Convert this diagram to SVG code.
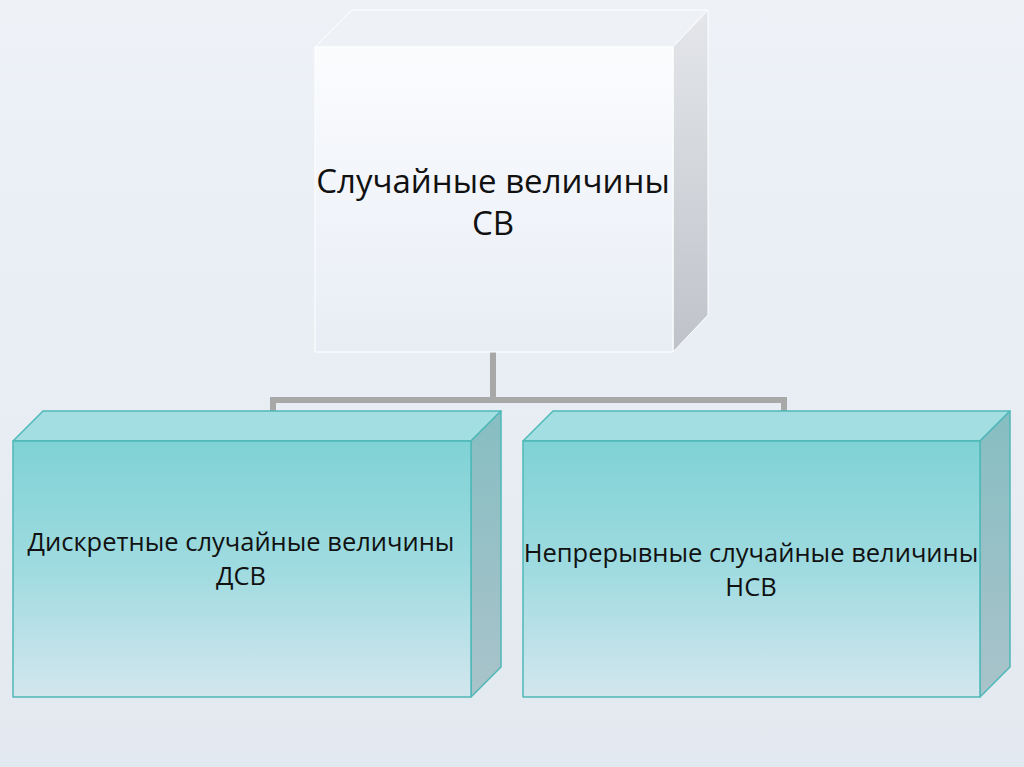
<svg xmlns="http://www.w3.org/2000/svg" width="1024" height="767" viewBox="0 0 1024 767">
<defs>
<linearGradient id="bg" x1="0" y1="0" x2="0" y2="1"><stop offset="0" stop-color="#eef2f7"/><stop offset="1" stop-color="#e3e9f0"/></linearGradient>
<linearGradient id="wf" x1="0" y1="0" x2="0" y2="1"><stop offset="0" stop-color="#fbfcfe"/><stop offset="1" stop-color="#e8edf5"/></linearGradient>
<linearGradient id="ws" x1="0" y1="0" x2="0" y2="1"><stop offset="0" stop-color="#e4e6ea"/><stop offset="1" stop-color="#bfc3c9"/></linearGradient>
<linearGradient id="tf" x1="0" y1="0" x2="0" y2="1"><stop offset="0" stop-color="#7fd2d5"/><stop offset="0.5" stop-color="#9fdbe0"/><stop offset="1" stop-color="#d3e6ee"/></linearGradient>
<linearGradient id="ts" x1="0" y1="0" x2="0" y2="1"><stop offset="0" stop-color="#86bec2"/><stop offset="1" stop-color="#a9c3ca"/></linearGradient>
<style>
.txt{font-family:"Open Sans","Noto Sans","Liberation Sans",sans-serif;fill:#111;text-anchor:middle}
.t1{font-size:33px}
.t2{font-size:25.5px}
.tedge{stroke:#4fb8b8;stroke-width:1.5;stroke-linejoin:round}
.wedge{stroke:#ffffff;stroke-width:1;stroke-linejoin:round}
.conn{fill:none;stroke:#a8a8a8;stroke-width:6}
</style>
</defs>
<rect width="1024" height="767" fill="url(#bg)"/>
<g id="connectors">
<path class="conn" d="M493 352 V400 M273 400 H784 M273 397 V411 M784 397 V411"/>
</g>
<g id="node-sv">
<polygon points="315,47 352,10 708,10 673,47" fill="#eef1f6" class="wedge"/>
<polygon points="673,47 708,10 708,315 673,352" fill="url(#ws)" class="wedge"/>
<rect x="315" y="47" width="358" height="305" fill="url(#wf)" class="wedge"/>
<text class="txt t1" x="493" y="193">Случайные величины</text>
<text class="txt t1" x="493" y="235">СВ</text>
</g>
<g id="node-dsv">
<polygon points="13,441 43,411 501,411 471,441" fill="#a3dfe2" class="tedge"/>
<polygon points="471,441 501,411 501,667 471,697" fill="url(#ts)" class="tedge"/>
<rect x="13" y="441" width="458" height="256" fill="url(#tf)" class="tedge"/>
<text class="txt t2" x="241" y="551">Дискретные случайные величины</text>
<text class="txt t2" x="241" y="585">ДСВ</text>
</g>
<g id="node-nsv">
<polygon points="523,441 553,411 1010,411 980,441" fill="#a3dfe2" class="tedge"/>
<polygon points="980,441 1010,411 1010,667 980,697" fill="url(#ts)" class="tedge"/>
<rect x="523" y="441" width="457" height="256" fill="url(#tf)" class="tedge"/>
<text class="txt t2" x="751" y="562">Непрерывные случайные величины</text>
<text class="txt t2" x="751" y="596">НСВ</text>
</g>
</svg>
